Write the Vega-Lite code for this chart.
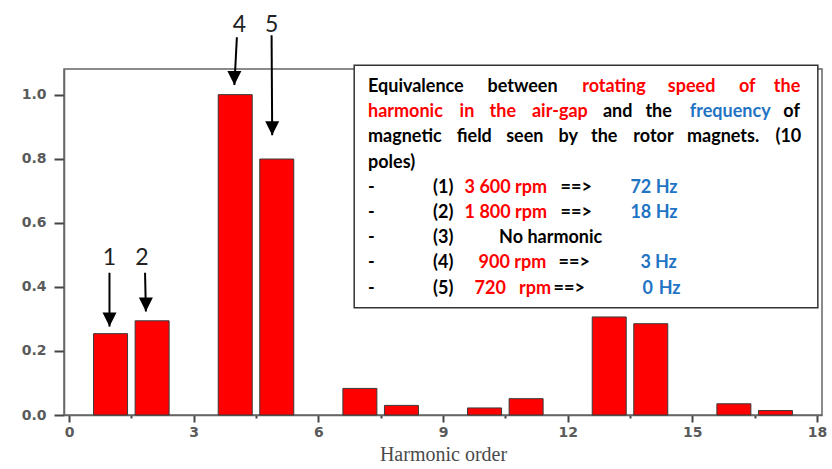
{
  "$schema": "https://vega.github.io/schema/vega-lite/v6.json",
  "width": 758,
  "height": 346,
  "autosize": {"type": "none"},
  "padding": {"left": 64, "top": 69, "right": 10, "bottom": 54},
  "background": "white",
  "config": {
    "view": {"stroke": "#666666", "strokeWidth": 1.5}
  },
  "datasets": {
    "bars": [
      {"harmonic": 1, "amplitude": 0.254},
      {"harmonic": 2, "amplitude": 0.294},
      {"harmonic": 4, "amplitude": 1.0},
      {"harmonic": 5, "amplitude": 0.799},
      {"harmonic": 7, "amplitude": 0.083},
      {"harmonic": 8, "amplitude": 0.03},
      {"harmonic": 10, "amplitude": 0.022},
      {"harmonic": 11, "amplitude": 0.051},
      {"harmonic": 13, "amplitude": 0.306},
      {"harmonic": 14, "amplitude": 0.285},
      {"harmonic": 16, "amplitude": 0.035},
      {"harmonic": 17, "amplitude": 0.014}
    ],
    "arrows": [
      {"label": "1", "lx": 0.974, "ly": 0.491, "xs": 0.974, "ys": 0.444, "xe": 0.974, "ye": 0.276},
      {"label": "2", "lx": 1.757, "ly": 0.491, "xs": 1.83, "ys": 0.444, "xe": 1.85, "ye": 0.323},
      {"label": "4", "lx": 4.10, "ly": 1.217, "xs": 4.04, "ys": 1.179, "xe": 3.98, "ye": 1.03},
      {"label": "5", "lx": 4.875, "ly": 1.217, "xs": 4.875, "ys": 1.185, "xe": 4.89, "ye": 0.873}
    ],
    "box": [
      {"x0": 6.863, "x1": 18.02, "y0": 1.092, "y1": 0.335}
    ],
    "words": [
      {"w": "Equivalence", "x": 7.195, "y": 1.024, "role": "plain"},
      {"w": "between", "x": 10.07, "y": 1.024, "role": "plain"},
      {"w": "rotating", "x": 12.35, "y": 1.024, "role": "speed"},
      {"w": "speed", "x": 14.41, "y": 1.024, "role": "speed"},
      {"w": "of", "x": 16.12, "y": 1.024, "role": "speed"},
      {"w": "the", "x": 16.96, "y": 1.024, "role": "speed"},
      {"w": "harmonic", "x": 7.195, "y": 0.946, "role": "speed"},
      {"w": "in", "x": 9.40, "y": 0.946, "role": "speed"},
      {"w": "the", "x": 10.12, "y": 0.946, "role": "speed"},
      {"w": "air-gap", "x": 11.14, "y": 0.946, "role": "speed"},
      {"w": "and", "x": 12.85, "y": 0.946, "role": "plain"},
      {"w": "the", "x": 13.87, "y": 0.946, "role": "plain"},
      {"w": "frequency", "x": 14.94, "y": 0.946, "role": "freq"},
      {"w": "of", "x": 17.19, "y": 0.946, "role": "plain"},
      {"w": "magnetic", "x": 7.195, "y": 0.868, "role": "plain"},
      {"w": "field", "x": 9.33, "y": 0.868, "role": "plain"},
      {"w": "seen", "x": 10.52, "y": 0.868, "role": "plain"},
      {"w": "by", "x": 11.78, "y": 0.868, "role": "plain"},
      {"w": "the", "x": 12.56, "y": 0.868, "role": "plain"},
      {"w": "rotor", "x": 13.58, "y": 0.868, "role": "plain"},
      {"w": "magnets.", "x": 14.87, "y": 0.868, "role": "plain"},
      {"w": "(10", "x": 17.0, "y": 0.868, "role": "plain"},
      {"w": "poles)", "x": 7.195, "y": 0.787, "role": "plain"},
      {"w": "-", "x": 7.195, "y": 0.709, "role": "plain"},
      {"w": "(1)", "x": 8.76, "y": 0.709, "role": "plain"},
      {"w": "3 600 rpm", "x": 9.52, "y": 0.709, "role": "speed"},
      {"w": "==>", "x": 11.83, "y": 0.709, "role": "plain"},
      {"w": "72 Hz", "x": 13.51, "y": 0.709, "role": "freq"},
      {"w": "-", "x": 7.195, "y": 0.630, "role": "plain"},
      {"w": "(2)", "x": 8.76, "y": 0.630, "role": "plain"},
      {"w": "1 800 rpm", "x": 9.52, "y": 0.630, "role": "speed"},
      {"w": "==>", "x": 11.83, "y": 0.630, "role": "plain"},
      {"w": "18 Hz", "x": 13.51, "y": 0.630, "role": "freq"},
      {"w": "-", "x": 7.195, "y": 0.551, "role": "plain"},
      {"w": "(3)", "x": 8.76, "y": 0.551, "role": "plain"},
      {"w": "No harmonic", "x": 10.35, "y": 0.551, "role": "plain"},
      {"w": "-", "x": 7.195, "y": 0.473, "role": "plain"},
      {"w": "(4)", "x": 8.76, "y": 0.473, "role": "plain"},
      {"w": "900 rpm", "x": 9.855, "y": 0.473, "role": "speed"},
      {"w": "==>", "x": 11.78, "y": 0.473, "role": "plain"},
      {"w": "3", "x": 13.75, "y": 0.473, "role": "freq"},
      {"w": "Hz", "x": 14.1, "y": 0.473, "role": "freq"},
      {"w": "-", "x": 7.195, "y": 0.394, "role": "plain"},
      {"w": "(5)", "x": 8.76, "y": 0.394, "role": "plain"},
      {"w": "720", "x": 9.76, "y": 0.394, "role": "speed"},
      {"w": "rpm", "x": 10.83, "y": 0.394, "role": "speed"},
      {"w": "==>", "x": 11.66, "y": 0.394, "role": "plain"},
      {"w": "0", "x": 13.80, "y": 0.394, "role": "freq"},
      {"w": "Hz", "x": 14.19, "y": 0.394, "role": "freq"}
    ]
  },
  "layer": [
    {
      "data": {"name": "bars"},
      "mark": {"type": "bar", "width": 34, "color": "#ff0000", "stroke": "#3a3a3a", "strokeWidth": 1},
      "encoding": {
        "x": {
          "field": "harmonic", "type": "quantitative",
          "title": "Harmonic order",
          "scale": {"domain": [0, 18], "nice": false, "zero": false},
          "axis": {
            "values": [0, 1.5, 3, 4.5, 6, 7.5, 9, 10.5, 12, 13.5, 15, 16.5, 18],
            "labelExpr": "datum.value % 3 === 0 ? datum.label : ''",
            "titleFont": "Liberation Serif",
            "titleFontSize": 20,
            "titleFontWeight": "normal",
            "titleColor": "#4a4a4a",
            "titlePadding": 5,
            "grid": false,
            "domainColor": "#666666",
            "domainWidth": 1.5,
            "ticks": true,
            "tickColor": "#444444",
            "tickWidth": 2,
            "tickSize": {"condition": {"test": "datum.value % 3 !== 0", "value": 3}, "value": 7},
            "labelFont": "DejaVu Sans",
            "labelFontSize": 14,
            "labelFontWeight": "bold",
            "labelColor": "#5a5a5a",
            "labelPadding": 3,
            "labelFlush": false
          }
        },
        "y": {
          "field": "amplitude", "type": "quantitative",
          "title": null,
          "scale": {"domain": [0, 1.08], "nice": false},
          "axis": {
            "values": [0, 0.1, 0.2, 0.3, 0.4, 0.5, 0.6, 0.7, 0.8, 0.9, 1.0],
            "labelExpr": "round(datum.value * 10) % 2 === 0 ? format(datum.value, '.1f') : ''",
            "grid": false,
            "domainColor": "#666666",
            "domainWidth": 1.5,
            "ticks": true,
            "tickColor": "#444444",
            "tickWidth": 2,
            "tickSize": {"condition": {"test": "round(datum.value * 10) % 2 === 1", "value": 5}, "value": 10},
            "labelFont": "DejaVu Sans",
            "labelFontSize": 14,
            "labelFontWeight": "bold",
            "labelColor": "#5a5a5a",
            "labelPadding": 8,
            "labelFlush": false
          }
        }
      }
    },
    {
      "data": {"name": "arrows"},
      "mark": {"type": "rule", "color": "#000000", "strokeWidth": 2},
      "encoding": {
        "x": {"field": "xs", "type": "quantitative", "title": "Harmonic order"},
        "x2": {"field": "xe"},
        "y": {"field": "ys", "type": "quantitative", "title": null},
        "y2": {"field": "ye"}
      }
    },
    {
      "data": {"name": "arrows"},
      "mark": {"type": "point", "shape": "M-0.5,-1L0.5,-1L0,0Z", "size": 784, "filled": true, "color": "#000000", "opacity": 1},
      "encoding": {
        "x": {"field": "xe", "type": "quantitative", "title": "Harmonic order"},
        "y": {"field": "ye", "type": "quantitative", "title": null}
      }
    },
    {
      "data": {"name": "arrows"},
      "mark": {"type": "text", "font": "Lato", "fontSize": 23, "color": "#222222", "align": "center", "baseline": "middle"},
      "encoding": {
        "x": {"field": "lx", "type": "quantitative", "title": "Harmonic order"},
        "y": {"field": "ly", "type": "quantitative", "title": null},
        "text": {"field": "label"}
      }
    },
    {
      "data": {"name": "box"},
      "mark": {"type": "rect", "fill": "white", "stroke": "#333333", "strokeWidth": 1.5},
      "encoding": {
        "x": {"field": "x0", "type": "quantitative", "title": "Harmonic order"},
        "x2": {"field": "x1"},
        "y": {"field": "y0", "type": "quantitative", "title": null},
        "y2": {"field": "y1"}
      }
    },
    {
      "data": {"name": "words"},
      "mark": {"type": "text", "font": "Lato", "fontSize": 18, "fontWeight": "bold", "align": "left", "baseline": "middle"},
      "encoding": {
        "x": {"field": "x", "type": "quantitative", "title": "Harmonic order"},
        "y": {"field": "y", "type": "quantitative", "title": null},
        "text": {"field": "w"},
        "color": {
          "field": "role", "type": "nominal",
          "scale": {"domain": ["plain", "speed", "freq"], "range": ["#000000", "#ff0000", "#1f74c4"]},
          "legend": null
        }
      }
    }
  ]
}
